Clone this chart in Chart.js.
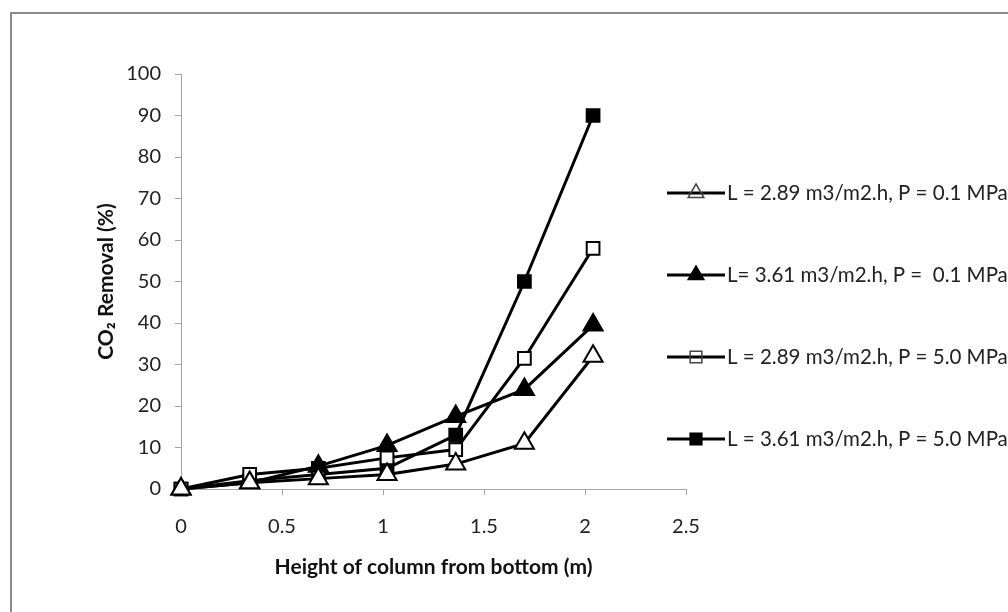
<!DOCTYPE html>
<html>
<head>
<meta charset="utf-8">
<script src="https://cdn.jsdelivr.net/npm/chart.js@4.4.1/dist/chart.umd.min.js"></script>
<style>
  html, body { margin: 0; padding: 0; background: #fff; }
</style>
</head>
<body>
<canvas id="co2Chart" width="1008" height="612"></canvas>
<script>
// altura de la columna (m) y % de CO2 removido por serie
const heights        = [0, 0.34, 0.68, 1.02, 1.36, 1.70, 2.04];
const removalL289P01 = [0, 1.5, 2.5, 3.5, 6, 11, 32];
const removalL361P01 = [0, 1.5, 5.5, 10.5, 17.5, 24, 39.5];
const removalL289P50 = [0, 3.5, 5, 7.5, 9.5, 31.5, 58];
const removalL361P50 = [0, 2, 3.5, 5, 13, 50, 90];

const seriesLabels = [
  'L = 2.89 m3/m2.h, P = 0.1 MPa',
  'L= 3.61 m3/m2.h, P =  0.1 MPa',
  'L = 2.89 m3/m2.h, P = 5.0 MPa',
  'L = 3.61 m3/m2.h, P = 5.0 MPa'
];
const xTickValues = [0, 0.5, 1, 1.5, 2, 2.5];
const yTickValues = [0, 10, 20, 30, 40, 50, 60, 70, 80, 90, 100];

const FONT = 'Lato';
const axisGray = '#a6a6a6';

const toPoints = vals => heights.map((h, i) => ({ x: h, y: vals[i] }));

function makeSeries(label, vals, style, filled) {
  const r = style === 'triangle' ? 11 : 9;
  return {
    label,
    data: toPoints(vals),
    borderColor: '#000',
    borderWidth: 3,
    pointStyle: style,
    pointRadius: r,
    pointHoverRadius: r,
    pointBackgroundColor: filled ? '#000' : '#fff',
    pointBorderColor: '#000',
    pointBorderWidth: 2,
    fill: false,
    tension: 0,
    clip: false,
    _filled: filled
  };
}

// marco gris arriba y a la izquierda
const framePlugin = {
  id: 'frame',
  beforeDraw(chart) {
    const { ctx, width, height } = chart;
    ctx.save();
    ctx.fillStyle = '#fff';
    ctx.fillRect(0, 0, width, height);
    ctx.strokeStyle = '#8a8a8a';
    ctx.lineWidth = 2;
    ctx.beginPath();
    ctx.moveTo(11, height);
    ctx.lineTo(11, 13);
    ctx.lineTo(width, 13);
    ctx.stroke();
    ctx.restore();
  }
};

function marker(ctx, style, filled, x, y, s) {
  ctx.beginPath();
  if (style === 'triangle') {
    ctx.moveTo(x, y - s);
    ctx.lineTo(x + s * 0.87, y + s * 0.5);
    ctx.lineTo(x - s * 0.87, y + s * 0.5);
    ctx.closePath();
  } else {
    ctx.rect(x - s * 0.65, y - s * 0.65, s * 1.3, s * 1.3);
  }
  if (filled) {
    ctx.fillStyle = '#000';
    ctx.fill();
  }
  ctx.lineWidth = 1.5;
  ctx.strokeStyle = filled ? '#000' : '#444';
  ctx.stroke();
}

// leyenda a la derecha: línea + marcador + texto
const legendPlugin = {
  id: 'sideLegend',
  afterDraw(chart) {
    const ctx = chart.ctx;
    const top = 193, gap = 82;
    ctx.save();
    chart.data.datasets.forEach((ds, i) => {
      const y = top + i * gap;
      ctx.strokeStyle = '#000';
      ctx.lineWidth = 3;
      ctx.beginPath();
      ctx.moveTo(667, y);
      ctx.lineTo(725, y);
      ctx.stroke();
      marker(ctx, ds.pointStyle, ds._filled, 696, y, 9);
      ctx.fillStyle = '#222';
      ctx.font = `20.5px ${FONT}`;
      ctx.textBaseline = 'middle';
      ctx.textAlign = 'left';
      ctx.fillText(ds.label, 727, y);
    });
    ctx.restore();
  }
};

new Chart(document.getElementById('co2Chart'), {
  type: 'line',
  data: {
    datasets: [
      makeSeries(seriesLabels[0], removalL289P01, 'triangle', false),
      makeSeries(seriesLabels[1], removalL361P01, 'triangle', true),
      makeSeries(seriesLabels[2], removalL289P50, 'rect', false),
      makeSeries(seriesLabels[3], removalL361P50, 'rect', true)
    ]
  },
  options: {
    responsive: false,
    animation: false,
    layout: { padding: { left: 0, top: 74, right: 322, bottom: 0 } },
    plugins: {
      legend: { display: false },
      tooltip: { enabled: false }
    },
    scales: {
      x: {
        type: 'linear',
        min: 0,
        max: 2.5,
        afterFit: s => { s.height = 123; },
        afterBuildTicks: s => { s.ticks = xTickValues.map(v => ({ value: v })); },
        border: { color: axisGray, width: 1 },
        grid: { display: true, drawOnChartArea: false, drawTicks: true, tickLength: 6, color: axisGray },
        ticks: { padding: 20, color: '#222', font: { family: FONT, size: 20 }, callback: v => String(v) },
        title: {
          display: true,
          text: 'Height of column from bottom (m)',
          color: '#111',
          font: { family: FONT, size: 21, weight: 'bold' },
          padding: { top: 0, bottom: 32 }
        }
      },
      y: {
        min: 0,
        max: 100,
        afterFit: s => { s.width = 181; },
        afterBuildTicks: s => { s.ticks = yTickValues.map(v => ({ value: v })); },
        border: { color: axisGray, width: 1 },
        grid: { display: true, drawOnChartArea: false, drawTicks: true, tickLength: 6, color: axisGray },
        ticks: { padding: 14, color: '#222', font: { family: FONT, size: 20 } },
        title: {
          display: true,
          text: 'CO₂ Removal (%)',
          color: '#111',
          font: { family: FONT, size: 21, weight: 'bold' },
          padding: { top: 94, bottom: 0 }
        }
      }
    }
  },
  plugins: [framePlugin, legendPlugin]
});
</script>
</body>
</html>
